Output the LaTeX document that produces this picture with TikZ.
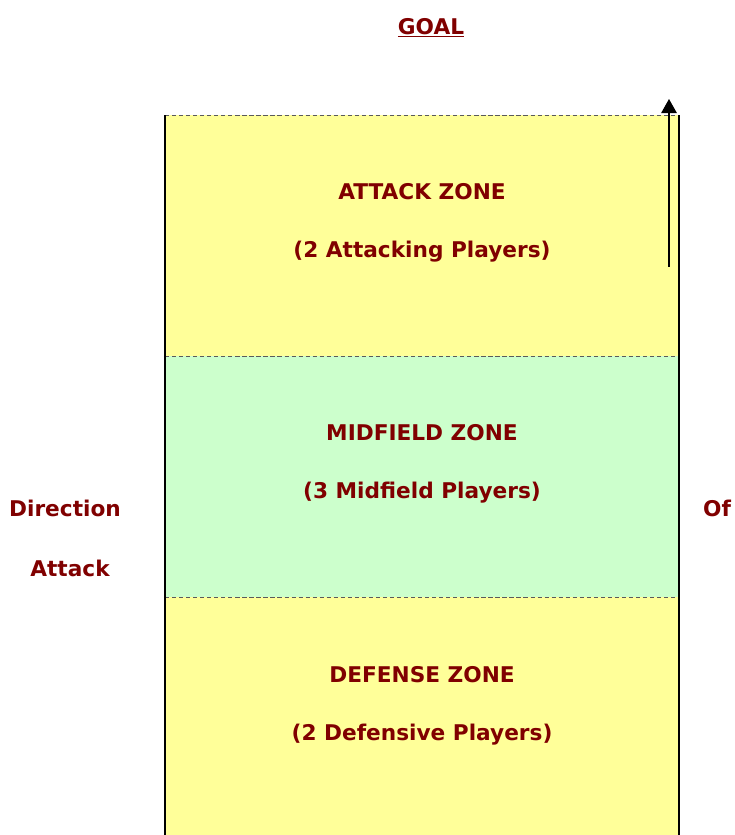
\documentclass[tikz,border=0pt]{standalone}
\usepackage{fontspec}
\setmainfont{DejaVu Sans}
\usepackage{xcolor}
\usepackage{tikz}
\usetikzlibrary{positioning, arrows.meta}
\definecolor{zoneRed}{RGB}{128, 0, 0}
\definecolor{zoneYellow}{RGB}{255, 255, 153}
\definecolor{zoneGreen}{RGB}{204, 255, 204}
\definecolor{zoneGray}{RGB}{90, 90, 90}
\tikzset{
    base/.style={
        font=\fontsize{15.4}{18}\selectfont\bfseries,
        text=zoneRed,
        align=center,
        inner sep=0pt
    },
    sideline/.style={
        line width=1.6pt,
        black
    },
    zoneline/.style={
        line width=0.6pt,
        zoneGray,
        dash pattern=on 3pt off 2pt
    },
    flow/.style={
        -{Triangle[length=10pt, width=11pt]},
        line width=1pt,
        black
    }
}
\begin{document}
\begin{tikzpicture}
  \useasboundingbox (0,0) rectangle (18.35,20.875);

  % Zones
  \fill[zoneYellow] (4.125,11.975) rectangle (16.975,18);
  \fill[zoneGreen] (4.125,5.95) rectangle (16.975,11.975);
  \fill[zoneYellow] (4.125,0) rectangle (16.975,5.95);

  % Zone borders
  \draw[zoneline] (4.125,18) -- (16.975,18);
  \draw[zoneline] (4.125,11.975) -- (16.975,11.975);
  \draw[zoneline] (4.125,5.95) -- (16.975,5.95);
  \draw[sideline] (4.125,0) -- (4.125,18);
  \draw[sideline] (16.975,0) -- (16.975,18);

  % Labels
  \node[base] (goal) at (10.775,20.175) {\underline{GOAL}};
  \node[base] (attack) at (10.55,16.075) {ATTACK ZONE};
  \node[base] (attackp) at (10.55,14.575) {(2 Attacking Players)};
  \node[base] (mid) at (10.55,10.05) {MIDFIELD ZONE};
  \node[base] (midp) at (10.55,8.55) {(3 Midfield Players)};
  \node[base] (def) at (10.55,4.0) {DEFENSE ZONE};
  \node[base] (defp) at (10.55,2.5) {(2 Defensive Players)};
  \node[base] (dir) at (1.625,8.175) {Direction};
  \node[base] (att) at (1.75,6.675) {Attack};
  \node[base] (of) at (17.925,8.175) {Of};

  % Direction arrow
  \coordinate (arrowfoot) at (16.725,14.2);
  \coordinate (arrowtip) at (16.725,18.4);
  \draw[flow] (arrowfoot) -- (arrowtip);
\end{tikzpicture}
\end{document}
